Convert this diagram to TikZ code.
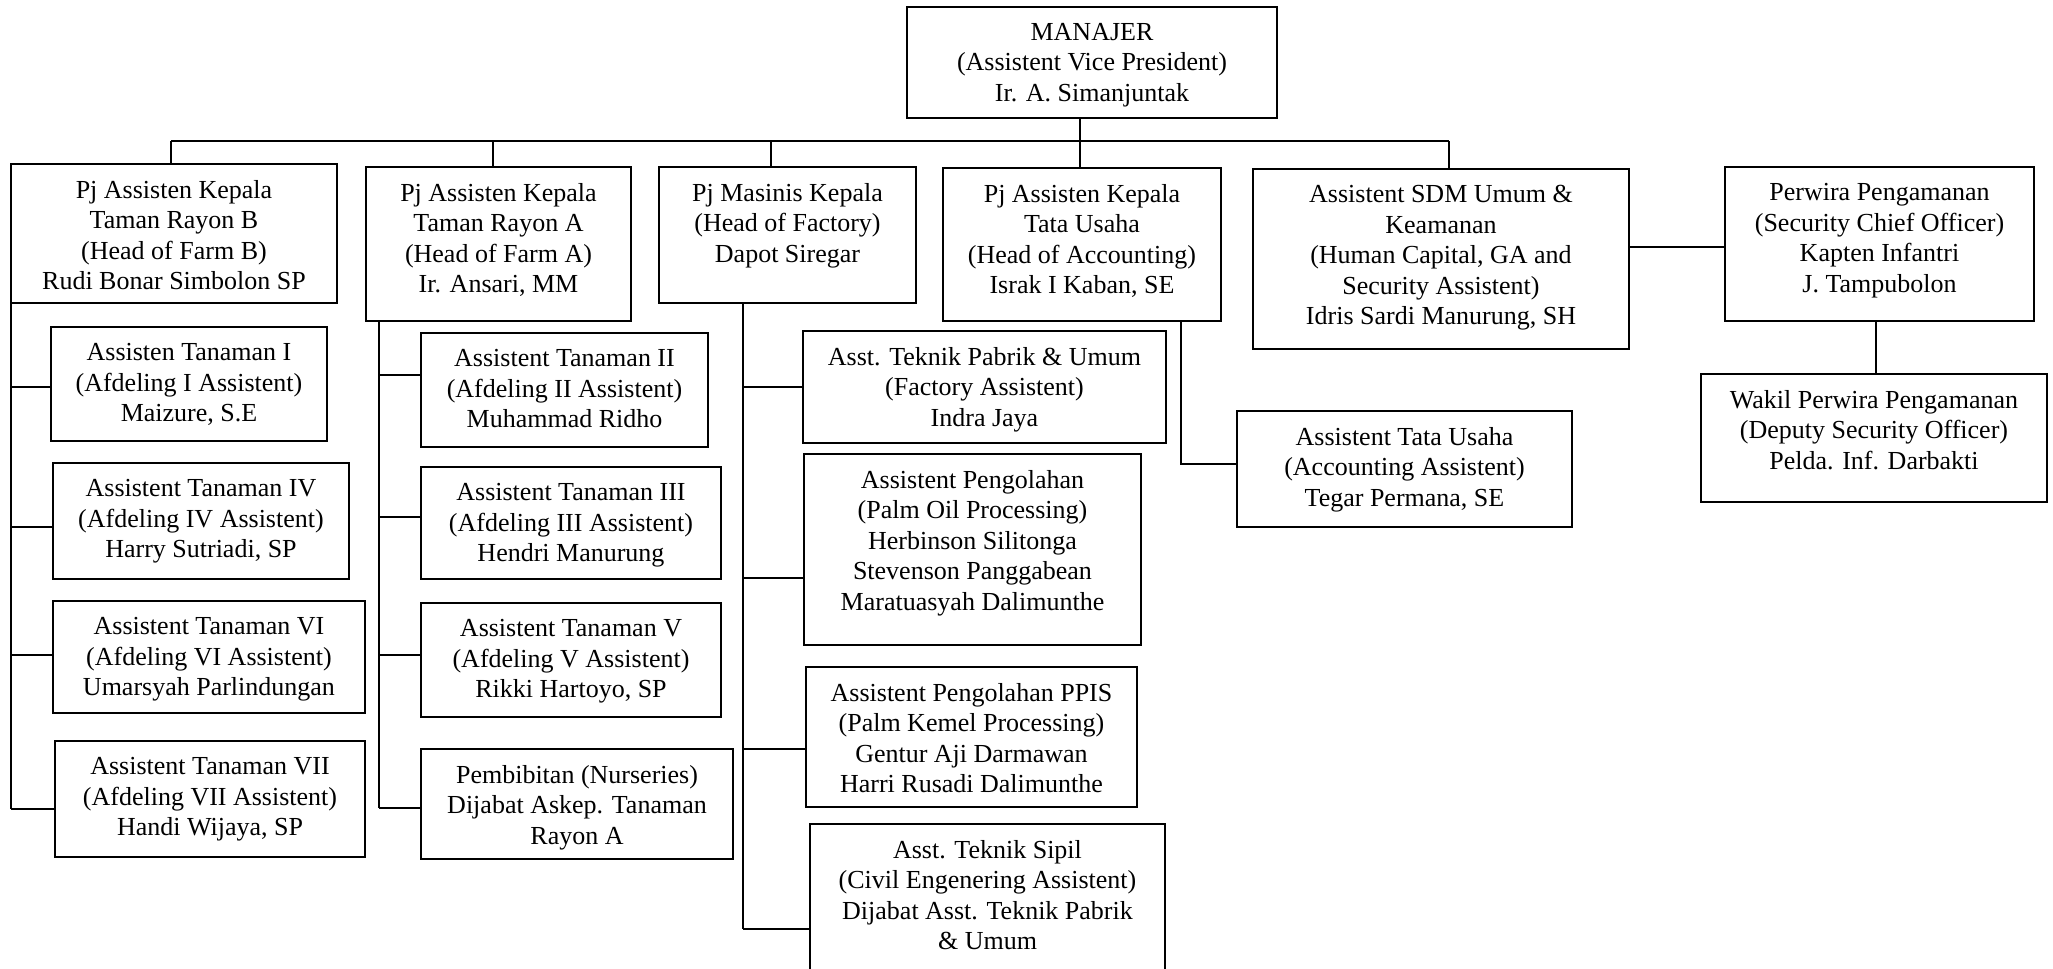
\documentclass[tikz,border=0pt]{standalone}
\usepackage{fontspec}
\setmainfont{Liberation Serif}
\begin{document}
\begin{tikzpicture}[x=0.5pt,y=-0.5pt,
  obox/.style={draw=black, line width=1.1pt, rectangle, inner sep=0pt},
  otxt/.style={anchor=north, yshift=-8.5pt, inner sep=0pt, align=center,
    font=\fontsize{13}{15.25}\selectfont},
  conn/.style={draw=black, line width=1pt}]
\useasboundingbox (0,0) rectangle (2053,969);
\clip (0,0) rectangle (2053,969);
\newcommand\ob[6]{%
  \node[obox, minimum width={(#4-#2)*0.5pt}, minimum height={(#5-#3)*0.5pt}] (#1) at ({(#2+#4)/2},{(#3+#5)/2}) {};
  \node[otxt] (#1-t) at (#1.north) {#6};}
% top
\ob{man}{907}{7}{1277}{118}{MANAJER\\(Assistent Vice President)\\Ir. A. Simanjuntak}
% second level
\ob{rb}{11}{164}{337}{303}{Pj Assisten Kepala\\Taman Rayon B\\(Head of Farm B)\\Rudi Bonar Simbolon SP}
\ob{ra}{366}{167}{631}{321}{Pj Assisten Kepala\\Taman Rayon A\\(Head of Farm A)\\Ir. Ansari, MM}
\ob{mas}{659}{167}{916}{303}{Pj Masinis Kepala\\(Head of Factory)\\Dapot Siregar}
\ob{tu}{943}{168}{1221}{321}{Pj Assisten Kepala\\Tata Usaha\\(Head of Accounting)\\Israk I Kaban, SE}
\ob{sdm}{1253}{169}{1629}{349}{Assistent SDM Umum \&\\Keamanan\\(Human Capital, GA and\\Security Assistent)\\Idris Sardi Manurung, SH}
\ob{per}{1725}{167}{2034}{321}{Perwira Pengamanan\\(Security Chief Officer)\\Kapten Infantri\\J. Tampubolon}
\ob{wak}{1701}{374}{2047}{502}{Wakil Perwira Pengamanan\\(Deputy Security Officer)\\Pelda. Inf. Darbakti}
\ob{atu}{1237}{411}{1572}{527}{Assistent Tata Usaha\\(Accounting Assistent)\\Tegar Permana, SE}
% Rayon B children
\ob{t1}{51}{327}{327}{441}{Assisten Tanaman I\\(Afdeling I Assistent)\\Maizure, S.E}
\ob{t4}{53}{463}{349}{579}{Assistent Tanaman IV\\(Afdeling IV Assistent)\\Harry Sutriadi, SP}
\ob{t6}{53}{601}{365}{713}{Assistent Tanaman VI\\(Afdeling VI Assistent)\\Umarsyah Parlindungan}
\ob{t7}{55}{741}{365}{857}{Assistent Tanaman VII\\(Afdeling VII Assistent)\\Handi Wijaya, SP}
% Rayon A children
\ob{t2}{421}{333}{708}{447}{Assistent Tanaman II\\(Afdeling II Assistent)\\Muhammad Ridho}
\ob{t3}{421}{467}{721}{579}{Assistent Tanaman III\\(Afdeling III Assistent)\\Hendri Manurung}
\ob{t5}{421}{603}{721}{717}{Assistent Tanaman V\\(Afdeling V Assistent)\\Rikki Hartoyo, SP}
\ob{pb}{421}{749}{733}{859}{Pembibitan (Nurseries)\\Dijabat Askep. Tanaman\\Rayon A}
% Masinis children
\ob{tp}{803}{331}{1166}{443}{Asst. Teknik Pabrik \& Umum\\(Factory Assistent)\\Indra Jaya}
\ob{po}{804}{454}{1141}{645}{Assistent Pengolahan\\(Palm Oil Processing)\\Herbinson Silitonga\\Stevenson Panggabean\\Maratuasyah Dalimunthe}
\ob{pp}{806}{667}{1137}{807}{Assistent Pengolahan PPIS\\(Palm Kemel Processing)\\Gentur Aji Darmawan\\Harri Rusadi Dalimunthe}
\ob{ts}{810}{824}{1165}{1000}{Asst. Teknik Sipil\\(Civil Engenering Assistent)\\Dijabat Asst. Teknik Pabrik\\\& Umum}
% bus coordinates
\coordinate (b1) at (171,141);
\coordinate (b2) at (493,141);
\coordinate (b3) at (771,141);
\coordinate (bm) at (1080,141);
\coordinate (b5) at (1449,141);
\draw[conn] (b1) -- (b5);
\draw[conn] (b1) -- (b1 |- rb.north);
\draw[conn] (b2) -- (b2 |- ra.north);
\draw[conn] (b3) -- (b3 |- mas.north);
\draw[conn] (bm |- man.south) -- (bm |- tu.north);
\draw[conn] (b5) -- (b5 |- sdm.north);
% Rayon B spine
\coordinate (c1) at (11,387);
\coordinate (c4) at (11,527);
\coordinate (c6) at (11,655);
\coordinate (c7) at (11,809);
\draw[conn] (c1 |- rb.south) -- (c7);
\draw[conn] (c1) -- (c1 -| t1.west);
\draw[conn] (c4) -- (c4 -| t4.west);
\draw[conn] (c6) -- (c6 -| t6.west);
\draw[conn] (c7) -- (c7 -| t7.west);
% Rayon A spine
\coordinate (d2) at (379,375);
\coordinate (d3) at (379,517);
\coordinate (d5) at (379,655);
\coordinate (dp) at (379,808);
\draw[conn] (d2 |- ra.south) -- (dp);
\draw[conn] (d2) -- (d2 -| t2.west);
\draw[conn] (d3) -- (d3 -| t3.west);
\draw[conn] (d5) -- (d5 -| t5.west);
\draw[conn] (dp) -- (dp -| pb.west);
% Masinis spine
\coordinate (e1) at (743,387);
\coordinate (e2) at (743,578);
\coordinate (e3) at (743,749);
\coordinate (e4) at (743,929);
\draw[conn] (e1 |- mas.south) -- (e4);
\draw[conn] (e1) -- (e1 -| tp.west);
\draw[conn] (e2) -- (e2 -| po.west);
\draw[conn] (e3) -- (e3 -| pp.west);
\draw[conn] (e4) -- (e4 -| ts.west);
% Tata Usaha
\coordinate (f1) at (1181,464);
\draw[conn] (f1 |- tu.south) -- (f1) -- (f1 -| atu.west);
% SDM - Perwira - Wakil
\coordinate (g1) at (1629,247);
\draw[conn] (g1 -| sdm.east) -- (g1 -| per.west);
\coordinate (h1) at (1876,321);
\draw[conn] (h1 |- per.south) -- (h1 |- wak.north);
\end{tikzpicture}
\end{document}
